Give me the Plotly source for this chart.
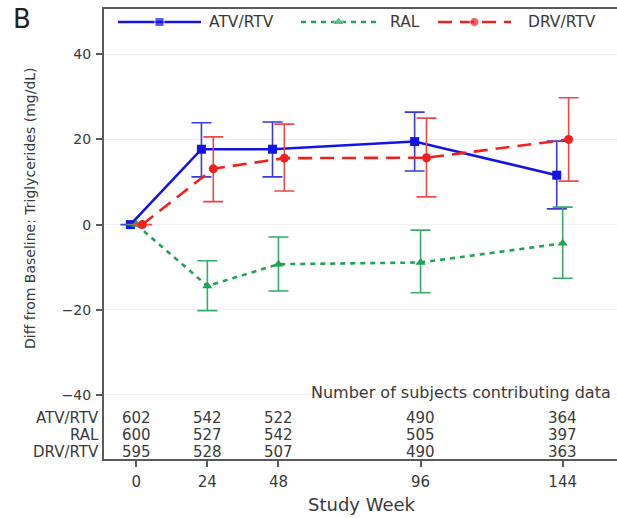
import plotly.graph_objects as go

# Study visits (weeks) and number of subjects contributing data
weeks = [0, 24, 48, 96, 144]
arms = ["ATV/RTV", "RAL", "DRV/RTV"]
n_atv = [602, 542, 522, 490, 364]
n_ral = [600, 527, 542, 505, 397]
n_drv = [595, 528, 507, 490, 363]

# Mean change from baseline in triglycerides (mg/dL) with 95% CI bounds
atv_mean = [0, 17.7, 17.7, 19.5, 11.6]
atv_lo = [0, 11.2, 11.2, 12.6, 3.7]
atv_hi = [0, 23.9, 24.1, 26.4, 19.6]

ral_mean = [0, -14.4, -9.3, -8.9, -4.4]
ral_lo = [0, -20.2, -15.6, -16.0, -12.6]
ral_hi = [0, -8.5, -2.9, -1.3, 4.1]

drv_mean = [0, 13.1, 15.6, 15.7, 20.0]
drv_lo = [0, 5.4, 7.9, 6.5, 10.2]
drv_hi = [0, 20.6, 23.6, 25.0, 29.8]

y_ticks = [-40, -20, 0, 20, 40]

BLUE, GREEN, RED = "#1414e6", "#1fa355", "#f02020"
BLUE_EB, GREEN_EB, RED_EB = "#3a3ae0", "#35ad68", "#ea4a4a"
TXT = "#3a3a3a"
AX = "#5a5a5a"
FONT = "DejaVu Sans"

W, H = 617, 518
ML, MR, MT, MB = 104, 0, 9, 59
DODGE = 2.0  # horizontal offset (weeks) so the arms do not overlap

# Pixel scale of the axes (used to place decorations in data units)
X_PX_PER_WEEK = 2.961
X0_PX = 136.3
Y_PX_PER_UNIT = 4.259
Y0_PX = 224.6


def data_x(px):
    return (px - X0_PX) / X_PX_PER_WEEK


def data_y(py):
    return (Y0_PX - py) / Y_PX_PER_UNIT


def paper_x(px):
    return (px - ML) / (W - ML - MR)


def paper_y(py):
    return (H - MB - py) / (H - MT - MB)


def err(mean, lo, hi, color):
    return dict(
        type="data", symmetric=False,
        array=[h - m for m, h in zip(mean, hi)],
        arrayminus=[m - l for m, l in zip(mean, lo)],
        thickness=1.6, width=10, color=color,
    )


series = [
    ("ATV/RTV", [w - DODGE for w in weeks], atv_mean, atv_lo, atv_hi,
     BLUE, BLUE_EB, "solid", "square"),
    ("RAL", weeks, ral_mean, ral_lo, ral_hi,
     GREEN, GREEN_EB, "5px,5px", "triangle-up"),
    ("DRV/RTV", [w + DODGE for w in weeks], drv_mean, drv_lo, drv_hi,
     RED, RED_EB, "14px,8px", "circle"),
]

fig = go.Figure()
for name, xs, m, lo, hi, col, ecol, dash, sym in series:
    fig.add_trace(go.Scatter(
        x=xs, y=m, mode="lines+markers", name=name,
        line=dict(color=col, width=2.6, dash=dash),
        marker=dict(symbol=sym, size=9, color=col),
        error_y=err(m, lo, hi, ecol), showlegend=False, cliponaxis=False,
    ))

# Legend keys drawn along the top of the plot
legend_keys = [
    ("ATV/RTV", 118, 201, 207, BLUE, "solid", "square", 9),
    ("RAL", 301, 376, 388, GREEN, "5px,5px", "triangle-up", 10),
    ("DRV/RTV", 438, 511, 526, RED, "14px,8px", "circle", 9),
]
LEG_Y = 22
for name, x0, x1, tx, col, dash, sym, ms in legend_keys:
    xm = (x0 + x1) / 2
    fig.add_trace(go.Scatter(
        x=[data_x(x0), data_x(xm), data_x(x1)],
        y=[data_y(LEG_Y)] * 3,
        mode="lines+markers",
        line=dict(color=col, width=2.6, dash=dash),
        marker=dict(symbol=sym, size=[0, ms, 0], color=col),
        showlegend=False, hoverinfo="skip", cliponaxis=False,
    ))
    fig.add_annotation(
        x=paper_x(tx), y=paper_y(LEG_Y), xref="paper", yref="paper",
        text=name, showarrow=False, xanchor="left", yanchor="middle",
        font=dict(family=FONT, size=15.5, color=TXT),
    )

# Subject counts table inside the bottom of the plot
row_y = [data_y(418), data_y(435), data_y(452)]
for arm, counts, yv in zip(arms, [n_atv, n_ral, n_drv], row_y):
    fig.add_annotation(
        x=0, y=yv, xref="paper", yref="y", text=arm, showarrow=False,
        xanchor="right", yanchor="middle", xshift=-4, borderpad=0,
        font=dict(family=FONT, size=15, color=TXT),
    )
    for w, c in zip(weeks, counts):
        fig.add_annotation(
            x=w, y=yv, xref="x", yref="y", text=str(c), showarrow=False,
            xanchor="center", yanchor="middle", borderpad=0,
            font=dict(family=FONT, size=15, color=TXT),
        )

fig.add_annotation(
    x=paper_x(612), y=data_y(392), xref="paper", yref="y",
    text="Number of subjects contributing data", showarrow=False,
    xanchor="right", yanchor="middle", borderpad=0,
    font=dict(family=FONT, size=16, color=TXT),
)

# Axis titles and panel letter
fig.add_annotation(
    x=paper_x(30), y=paper_y(208), xref="paper", yref="paper",
    text="Diff from Baseline: Triglycerides (mg/dL)", textangle=-90,
    showarrow=False, xanchor="center", yanchor="middle",
    font=dict(family=FONT, size=14, color=TXT),
)
fig.add_annotation(
    x=paper_x(362), y=paper_y(504), xref="paper", yref="paper",
    text="Study Week", showarrow=False, xanchor="center", yanchor="middle",
    font=dict(family=FONT, size=18, color=TXT),
)
fig.add_annotation(
    x=paper_x(22), y=paper_y(19), xref="paper", yref="paper",
    text="B", showarrow=False, xanchor="center", yanchor="middle",
    font=dict(family=FONT, size=26, color="#222222"),
)

fig.update_layout(
    width=W, height=H,
    margin=dict(l=ML, r=MR, t=MT, b=MB, pad=0),
    paper_bgcolor="white", plot_bgcolor="white",
    font=dict(family=FONT, color=TXT),
    xaxis=dict(
        range=[data_x(ML), data_x(W - MR)],
        tickvals=weeks, ticktext=[str(w) for w in weeks],
        showgrid=False, zeroline=False,
        showline=True, linecolor=AX, linewidth=2, mirror=True,
        ticks="outside", ticklen=6, tickwidth=1.5, tickcolor=AX,
        tickfont=dict(family=FONT, size=15, color=TXT),
        ticklabelstandoff=2,
    ),
    yaxis=dict(
        range=[data_y(H - MB), data_y(MT)],
        tickvals=y_ticks,
        ticktext=["\u2212" + str(-v) if v < 0 else str(v) for v in y_ticks],
        showgrid=True, gridcolor="#f0f0f0", gridwidth=1, zeroline=False,
        showline=True, linecolor=AX, linewidth=2, mirror=False,
        ticks="outside", ticklen=6, tickwidth=1.5, tickcolor=AX,
        tickfont=dict(family=FONT, size=14, color=TXT),
        ticklabelstandoff=2,
    ),
    showlegend=False,
)

fig.write_html("out.html")
